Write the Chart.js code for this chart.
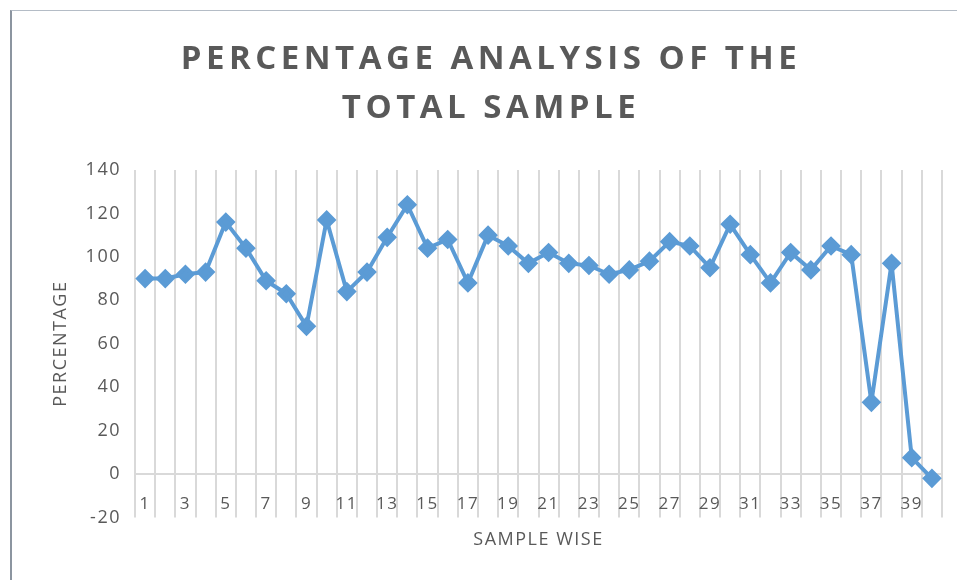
<!DOCTYPE html>
<html lang="en">
<head>
    <meta charset="UTF-8">
    <title>Percentage analysis of the total sample</title>
    <script src="https://cdn.jsdelivr.net/npm/chart.js@4.4.0/dist/chart.umd.min.js"></script>
    <style>
        body {
            margin: 0;
            padding: 0;
            background: #ffffff;
        }
        .wrap {
            position: relative;
            width: 958px;
            height: 580px;
            overflow: hidden;
        }
        /* frame left over from the spreadsheet */
        .frame {
            position: absolute;
            left: 10px;
            top: 10px;
            right: 1px;
            bottom: -5px;
            border-top: 1px solid #b4bcc6;
            border-left: 2px solid #8c95a0;
        }
        .title {
            position: absolute;
            left: 0;
            width: 982px;
            top: 32px;
            text-align: center;
            font-family: "Open Sans", sans-serif;
            font-weight: bold;
            font-size: 33px;
            line-height: 49px;
            letter-spacing: 4.5px;
            color: #595959;
        }
        canvas {
            position: absolute;
            left: 0;
            top: 0;
        }
    </style>
</head>
<body>
    <div class="wrap">
        <div class="frame"></div>
        <canvas id="chart" width="958" height="580"></canvas>
        <div class="title">PERCENTAGE ANALYSIS OF THE<br>TOTAL SAMPLE</div>
    </div>

    <script>
        // sample numbers 1..40
        const samples = ['1','2','3','4','5','6','7','8','9','10',
                         '11','12','13','14','15','16','17','18','19','20',
                         '21','22','23','24','25','26','27','28','29','30',
                         '31','32','33','34','35','36','37','38','39','40'];

        // percentage per sample
        const percentage = [90, 90, 92, 93, 116, 104, 89, 83, 68, 117,
                            84, 93, 109, 124, 104, 108, 88, 110, 105, 97,
                            102, 97, 96, 92, 94, 98, 107, 105, 95, 115,
                            101, 88, 102, 94, 105, 101, 33, 97, 7.5, -2];

        const yMin = -20;
        const yMax = 140;
        const yStep = 20;

        const textColor = '#595959';
        const gridColor = '#d9d9d9';

        // letter spacing for the canvas text, canvas does not take css
        const spacing = {
            id: 'spacing',
            beforeUpdate(chart) { chart.ctx.letterSpacing = '1.5px'; },
            beforeDraw(chart) { chart.ctx.letterSpacing = '1.5px'; }
        };

        new Chart(document.getElementById('chart'), {
            type: 'line',
            data: {
                labels: samples,
                datasets: [{
                    label: 'Percentage',
                    data: percentage,
                    borderColor: '#5b9bd5',
                    backgroundColor: '#5b9bd5',
                    borderWidth: 4,
                    borderJoinStyle: 'round',
                    pointStyle: 'rectRot',
                    pointRadius: 7,
                    pointHoverRadius: 7,
                    tension: 0
                }]
            },
            options: {
                responsive: false,
                animation: false,
                layout: {
                    padding: { left: 40, right: 16, top: 170, bottom: 0 }
                },
                plugins: {
                    legend: { display: false },
                    tooltip: { enabled: false },
                    // x axis title sits under the plot
                    title: {
                        display: true,
                        position: 'bottom',
                        fullSize: false,
                        text: 'SAMPLE WISE',
                        color: textColor,
                        font: { family: 'Open Sans', size: 18, weight: 'normal' },
                        padding: { top: 12, bottom: 29 }
                    }
                },
                scales: {
                    x: {
                        position: { y: 0 },
                        offset: true,
                        border: { display: false },
                        grid: {
                            offset: true,
                            color: gridColor,
                            lineWidth: 2,
                            drawTicks: false
                        },
                        ticks: {
                            autoSkip: false,
                            maxRotation: 0,
                            padding: 20,
                            color: textColor,
                            font: { family: 'Open Sans', size: 17 },
                            callback: (v, i) => i % 2 === 0 ? samples[i] : ''
                        }
                    },
                    y: {
                        min: yMin,
                        max: yMax,
                        border: { display: false },
                        grid: {
                            drawTicks: false,
                            lineWidth: 2,
                            color: ctx => ctx.tick && ctx.tick.value === 0 ? gridColor : 'rgba(0,0,0,0)'
                        },
                        ticks: {
                            stepSize: yStep,
                            padding: 14,
                            color: textColor,
                            font: { family: 'Open Sans', size: 18 }
                        },
                        title: {
                            display: true,
                            text: 'PERCENTAGE',
                            color: textColor,
                            font: { family: 'Open Sans', size: 18 },
                            padding: { top: 10, bottom: 0 }
                        },
                        afterFit(scale) { scale.width = 95; }
                    }
                }
            },
            plugins: [spacing]
        });
    </script>
</body>
</html>
